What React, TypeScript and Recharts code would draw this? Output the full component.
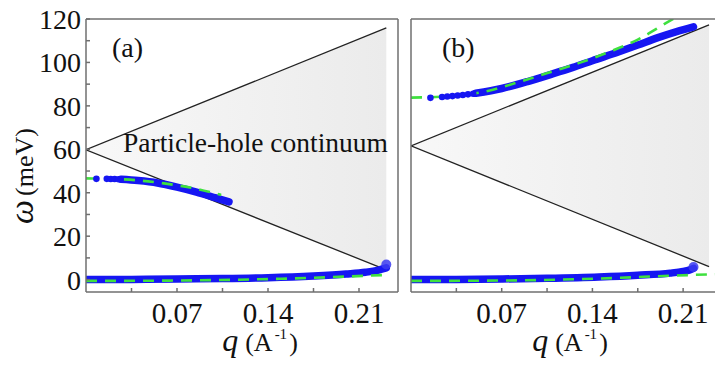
import { ComposedChart, Line, Area, Scatter, XAxis, YAxis } from 'recharts';

const FONT = '"Liberation Serif", "DejaVu Serif", "Times New Roman", Times, serif';
const BLUE = '#1616f2';
const GREEN = '#3fe03f';
const AXIS = '#6f6f6f';

const Q_TICKS = [0.035, 0.07, 0.105, 0.14, 0.175, 0.21];
const Q_LABELS = [0.07, 0.14, 0.21];
const W_TICKS = [0, 10, 20, 30, 40, 50, 60, 70, 80, 90, 100, 110, 120];
const W_LABELS = [0, 20, 40, 60, 80, 100, 120];

// (a) continuum edges
const edgeQA = [0, 0.231];
const edgeLoA = [59.8, 4.5];
const edgeHiA = [59.8, 115.9];
// (a) upper branch
const dotsQA = [0.008, 0.016, 0.019, 0.022, 0.025];
const dotsWA = [46.4, 46.4, 46.3, 46.3, 46.2];
const upBlueQA = [0.027, 0.04, 0.055, 0.07, 0.085, 0.1, 0.11];
const upBlueWA = [46.2, 45.6, 44.5, 42.6, 40.3, 37.6, 35.8];
const upGreenQA = [0, 0.02, 0.04, 0.06, 0.08, 0.1, 0.104];
const upGreenWA = [46.6, 46.4, 45.7, 44.3, 42.4, 39.6, 39.0];
// (a) lower branch
const loBlueQA = [0, 0.035, 0.07, 0.105, 0.14, 0.175, 0.2, 0.215, 0.225, 0.231];
const loBlueWA = [0, 0.1, 0.3, 0.5, 0.9, 1.7, 2.6, 3.4, 4.4, 5.4];
const loGreenQA = [0, 0.05, 0.1, 0.15, 0.2, 0.232];
const loGreenWA = [-0.6, -0.5, -0.2, 0.4, 1.4, 2.2];
const blobA = [{ q: 0.231, w: 7.0 }];

// (b) continuum edges
const edgeQB = [0, 0.23];
const edgeLoB = [61.6, 6.0];
const edgeHiB = [61.6, 117.3];
// (b) upper branch
const dotsQB = [0.015, 0.024, 0.028, 0.032, 0.036, 0.04, 0.044, 0.048];
const dotsWB = [83.7, 84.1, 84.3, 84.5, 84.8, 85.0, 85.3, 85.6];
const upBlueQB = [0.05, 0.07, 0.09, 0.107, 0.125, 0.14, 0.16, 0.175, 0.19, 0.205, 0.218];
const upBlueWB = [85.8, 88.0, 91.2, 94.3, 97.7, 100.8, 104.8, 108.0, 111.3, 114.2, 116.4];
const upGreenQB = [0, 0.03, 0.06, 0.086, 0.11, 0.13, 0.153, 0.175, 0.197, 0.205];
const upGreenWB = [83.8, 84.4, 87.0, 91.5, 96.0, 99.8, 104.9, 110.5, 118.2, 121.0];
// (b) lower branch
const loBlueQB = [0, 0.035, 0.07, 0.105, 0.145, 0.175, 0.2, 0.21, 0.2146, 0.218];
const loBlueWB = [0, 0.1, 0.3, 0.6, 1.2, 2.0, 3.0, 3.8, 4.4, 5.2];
const loGreenQB = [0, 0.05, 0.1, 0.155, 0.2, 0.24];
const loGreenWB = [-0.6, -0.5, -0.2, 0.7, 1.8, 2.6];
const blobB = [{ q: 0.218, w: 5.8 }];

const pts = (q: number[], w: number[]) => q.map((x, i) => ({ q: x, w: w[i] }));
const edges = (q: number[], lo: number[], hi: number[]) =>
  q.map((x, i) => ({ q: x, lo: lo[i], hi: hi[i], range: [lo[i], hi[i]] }));

const fmtQ = (v: number) => (Q_LABELS.includes(v) ? v.toFixed(2) : '');
const fmtW = (v: number) => (W_LABELS.includes(v) ? String(v) : '');

const dot = (p: any) => <circle cx={p.cx} cy={p.cy} r={3.3} fill={BLUE} />;
const blob = (p: any) => <circle cx={p.cx} cy={p.cy} r={5} fill="#3b3bf0" fillOpacity={0.85} />;

type Pt = { q: number; w: number };
type PanelProps = {
  id: string;
  width: number;
  yWidth: number;
  yLabels: boolean;
  edge: { q: number; lo: number; hi: number; range: number[] }[];
  dots: Pt[];
  upBlue: Pt[];
  upGreen: Pt[];
  loBlue: Pt[];
  loGreen: Pt[];
  end: Pt[];
};

function Panel(p: PanelProps) {
  const ax = { xAxisId: 'b', yAxisId: 'l', isAnimationActive: false };
  return (
    <ComposedChart width={p.width} height={369} margin={{ top: 18, right: 1, bottom: 0, left: 0 }}>
      <defs>
        <linearGradient id={`ph-${p.id}`} x1="0" y1="0" x2="1" y2="0">
          <stop offset="0" stopColor="#f8f8f8" />
          <stop offset="1" stopColor="#ebebeb" />
        </linearGradient>
      </defs>
      <XAxis
        xAxisId="b"
        dataKey="q"
        type="number"
        domain={[0, 0.24]}
        ticks={Q_TICKS}
        interval={0}
        tickFormatter={fmtQ}
        height={77}
        tickSize={-4}
        tickMargin={14}
        stroke={AXIS}
        strokeWidth={1.5}
        tick={{ fill: '#111', fontSize: 29, fontFamily: FONT }}
        allowDataOverflow
      />
      <XAxis
        xAxisId="t"
        orientation="top"
        dataKey="q"
        type="number"
        domain={[0, 0.24]}
        ticks={Q_TICKS}
        interval={0}
        height={1}
        tick={false}
        tickSize={-4}
        stroke={AXIS}
        strokeWidth={1.5}
      />
      <YAxis
        yAxisId="l"
        type="number"
        domain={[-5.7, 120]}
        ticks={W_TICKS}
        interval={0}
        tickFormatter={fmtW}
        width={p.yWidth}
        tickSize={-4}
        tickMargin={9}
        stroke={AXIS}
        strokeWidth={1.5}
        tick={p.yLabels ? { fill: '#111', fontSize: 28, fontFamily: FONT } : false}
        allowDataOverflow
      />
      <YAxis
        yAxisId="r"
        orientation="right"
        type="number"
        domain={[-5.7, 120]}
        ticks={W_TICKS}
        interval={0}
        width={1}
        tick={false}
        tickSize={-4}
        stroke={AXIS}
        strokeWidth={1.5}
      />
      <Area {...ax} data={p.edge} dataKey="range" type="linear" stroke="none" strokeWidth={0} activeDot={false} fill={`url(#ph-${p.id})`} fillOpacity={1} />
      <Line {...ax} data={p.edge} dataKey="hi" type="linear" stroke="#222" strokeWidth={1.3} dot={false} activeDot={false} />
      <Line {...ax} data={p.edge} dataKey="lo" type="linear" stroke="#222" strokeWidth={1.3} dot={false} activeDot={false} />
      <Line {...ax} data={p.loBlue} dataKey="w" type="monotone" stroke={BLUE} strokeWidth={7.5} strokeLinecap="round" dot={false} activeDot={false} />
      <Line {...ax} data={p.upBlue} dataKey="w" type="monotone" stroke={BLUE} strokeWidth={7.5} strokeLinecap="round" dot={false} activeDot={false} />
      <Scatter {...ax} data={p.dots} dataKey="w" shape={dot} />
      <Scatter {...ax} data={p.end} dataKey="w" shape={blob} />
      <Line {...ax} data={p.loGreen} dataKey="w" type="monotone" stroke={GREEN} strokeWidth={2.6} strokeDasharray="11 8" dot={false} activeDot={false} />
      <Line {...ax} data={p.upGreen} dataKey="w" type="monotone" stroke={GREEN} strokeWidth={2.6} strokeDasharray="11 8" dot={false} activeDot={false} />
    </ComposedChart>
  );
}

function XTitle({ x }: { x: number }) {
  return (
    <text x={x} y={351} textAnchor="middle" fontFamily={FONT} fill="#111">
      <tspan fontStyle="italic" fontSize={32}>q</tspan>
      <tspan fontSize={26} dx={7}>(A</tspan>
      <tspan fontSize={15} dx={2} dy={-12}>-1</tspan>
      <tspan fontSize={26} dx={2} dy={12}>)</tspan>
    </text>
  );
}

export default function App() {
  return (
    <div style={{ position: 'absolute', left: 0, top: 0, width: 715, height: 369, overflow: 'hidden', background: '#fff' }}>
      <div style={{ position: 'absolute', left: 0, top: 0 }}>
        <Panel
          id="a"
          width={400}
          yWidth={86}
          yLabels
          edge={edges(edgeQA, edgeLoA, edgeHiA)}
          dots={pts(dotsQA, dotsWA)}
          upBlue={pts(upBlueQA, upBlueWA)}
          upGreen={pts(upGreenQA, upGreenWA)}
          loBlue={pts(loBlueQA, loBlueWA)}
          loGreen={pts(loGreenQA, loGreenWA)}
          end={blobA}
        />
      </div>
      <div style={{ position: 'absolute', left: 400, top: 0 }}>
        <Panel
          id="b"
          width={324}
          yWidth={11}
          yLabels={false}
          edge={edges(edgeQB, edgeLoB, edgeHiB)}
          dots={pts(dotsQB, dotsWB)}
          upBlue={pts(upBlueQB, upBlueWB)}
          upGreen={pts(upGreenQB, upGreenWB)}
          loBlue={pts(loBlueQB, loBlueWB)}
          loGreen={pts(loGreenQB, loGreenWB)}
          end={blobB}
        />
      </div>
      <svg width={715} height={369} style={{ position: 'absolute', left: 0, top: 0, pointerEvents: 'none' }}>
        <text x={112} y={57} fontFamily={FONT} fontSize={28} fill="#111">(a)</text>
        <text x={442} y={57} fontFamily={FONT} fontSize={28} fill="#111">(b)</text>
        <text x={123} y={152} fontFamily={FONT} fontSize={27.5} fill="#111">Particle-hole continuum</text>
        <XTitle x={260} />
        <XTitle x={570} />
        <text transform="rotate(-90 33 176)" x={33} y={176} textAnchor="middle" fontFamily={FONT} fill="#111">
          <tspan fontStyle="italic" fontSize={34}>ω</tspan>
          <tspan fontSize={26} dx={4}>(meV)</tspan>
        </text>
      </svg>
    </div>
  );
}
